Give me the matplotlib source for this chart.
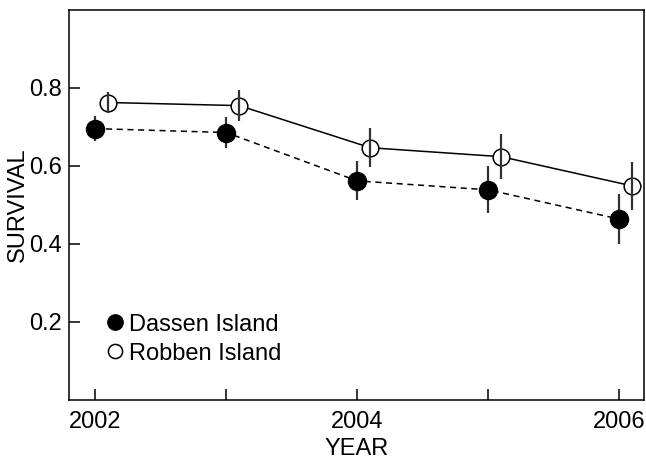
import matplotlib
matplotlib.use("Agg")
import matplotlib.pyplot as plt
import numpy as np

plt.rcParams["font.family"] = ["Liberation Sans", "DejaVu Sans"]

YEARS = [2002, 2003, 2004, 2005, 2006]
DASSEN = [0.695, 0.685, 0.561, 0.538, 0.463]
DASSEN_ERR = [0.032, 0.040, 0.050, 0.060, 0.065]
ROBBEN = [0.762, 0.754, 0.646, 0.623, 0.548]
ROBBEN_ERR = [0.028, 0.039, 0.050, 0.058, 0.062]
X_TICK_LABELS = ["2002", "", "2004", "", "2006"]
Y_TICKS = [0.2, 0.4, 0.6, 0.8]

OFFSET = 0.1  # Robben points are nudged right so the bars don't overlap
FS = 17

fig, ax = plt.subplots(figsize=(6.46, 4.63), dpi=100)
fig.subplots_adjust(left=0.107, right=0.997, top=0.979, bottom=0.137)

x = np.array(YEARS, dtype=float)
ax.plot(x, DASSEN, color="black", lw=1.1, ls=(0, (4, 3)), zorder=2)
ax.errorbar(x, DASSEN, yerr=DASSEN_ERR, fmt="none", ecolor="#333333", elinewidth=1.6, zorder=3)
ax.plot(x, DASSEN, "o", ms=13, mfc="black", mec="black", zorder=4, label="Dassen Island")

ax.plot(x + OFFSET, ROBBEN, color="black", lw=1.1, zorder=2)
ax.plot(x + OFFSET, ROBBEN, "o", ms=12, mfc="white", mec="black", mew=1.1, zorder=3,
        label="Robben Island")
ax.errorbar(x + OFFSET, ROBBEN, yerr=ROBBEN_ERR, fmt="none", ecolor="#333333", elinewidth=1.6,
            zorder=4)

ax.set_xlim(2001.8, 2006.19)
ax.set_ylim(0.0, 1.0)
ax.set_xticks(YEARS)
ax.set_xticklabels(X_TICK_LABELS)
ax.set_yticks(Y_TICKS)
ax.set_yticklabels([f"{v:.1f}" for v in Y_TICKS])
ax.tick_params(direction="in", length=8, width=1.1, labelsize=FS, pad=5)
ax.tick_params(axis="x", pad=8)
for s in ax.spines.values():
    s.set_linewidth(1.1)

ax.set_xlabel("YEAR", fontsize=FS, labelpad=4)
ax.set_ylabel("SURVIVAL", fontsize=FS, labelpad=0)

handles, labels = ax.get_legend_handles_labels()
ax.legend(handles, labels, loc="lower left", bbox_to_anchor=(0.035, 0.047), frameon=False,
          fontsize=FS, handlelength=0.8, handletextpad=0.2, labelspacing=0.3, markerscale=0.85,
          borderpad=0.2)

fig.savefig("out.png", dpi=100)
